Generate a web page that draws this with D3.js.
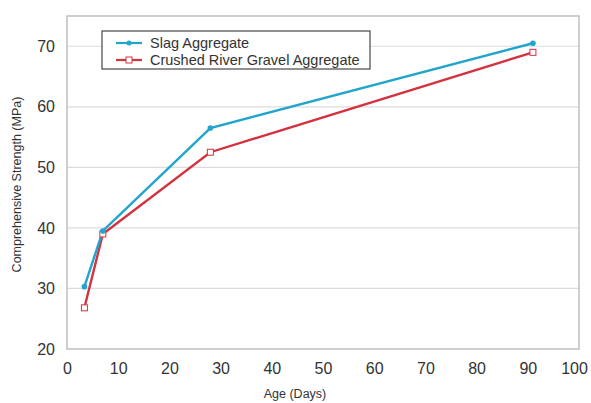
<!DOCTYPE html>
<html>
<head>
<meta charset="utf-8">
<script src="https://cdn.jsdelivr.net/npm/d3@7"></script>
<style>
  body { margin: 0; background: #fff; }
  text { font-family: "Liberation Sans", Arial, sans-serif; fill: #333; }
</style>
</head>
<body>
<svg id="chart" width="591" height="403"></svg>
<script>
// data
var ages = [3.4, 7, 28, 91];
var slag = [30.3, 39.5, 56.5, 70.5];
var gravel = [26.8, 39.0, 52.5, 69.0];
var xTicks = [0, 10, 20, 30, 40, 50, 60, 70, 80, 90, 100];
var yTicks = [20, 30, 40, 50, 60, 70];
var seriesNames = ["Slag Aggregate", "Crushed River Gravel Aggregate"];

(function () {
var svg = d3.select("#chart");
var pLeft = 67, pRight = 579, pTop = 16, pBottom = 349;

var x = d3.scaleLinear().domain([0, 100]).range([pLeft, pRight]);
var y = d3.scaleLinear().domain([20, 75]).range([pBottom, pTop]);

// grid lines
svg.append("g").selectAll("line")
    .data(yTicks.filter(function (d) { return d > 20; }))
    .enter().append("line")
    .attr("x1", pLeft).attr("x2", pRight)
    .attr("y1", function (d) { return y(d); })
    .attr("y2", function (d) { return y(d); })
    .attr("stroke", "#dcdcdc").attr("stroke-width", 1.2);

// frame
svg.append("rect")
    .attr("x", pLeft).attr("y", pTop)
    .attr("width", pRight - pLeft).attr("height", pBottom - pTop)
    .attr("fill", "none").attr("stroke", "#b5b5b5").attr("stroke-width", 1.3);

// axes
var yAxis = d3.axisLeft(y).tickValues(yTicks).tickSize(0).tickPadding(12);
svg.append("g").attr("transform", "translate(" + pLeft + ",0)").call(yAxis)
    .call(function (g) { g.select(".domain").remove(); })
    .selectAll("text").style("font-size", "16px").attr("fill", "#333");

var xAxis = d3.axisBottom(x).tickValues(xTicks).tickSize(0).tickPadding(14);
svg.append("g").attr("transform", "translate(0," + pBottom + ")").call(xAxis)
    .call(function (g) { g.select(".domain").remove(); })
    .selectAll("text").style("font-size", "16px").attr("fill", "#333")
    .attr("dx", function (d) { return d === 100 ? -5 : 0; });

// titles
svg.append("text").attr("x", (pLeft + pRight) / 2 - 28).attr("y", 398)
    .attr("text-anchor", "middle").style("font-size", "12.5px").text("Age (Days)");
svg.append("text")
    .attr("transform", "translate(21," + ((pTop + pBottom) / 2 + 2) + ") rotate(-90)")
    .attr("text-anchor", "middle").style("font-size", "12.5px")
    .text("Comprehensive Strength (MPa)");

var line = d3.line()
    .x(function (d) { return x(d[0]); })
    .y(function (d) { return y(d[1]); });

var blue = "#22a5cc", red = "#d3323f";

svg.append("path").datum(d3.zip(ages, gravel)).attr("d", line)
    .attr("fill", "none").attr("stroke", red).attr("stroke-width", 2.4);
svg.append("path").datum(d3.zip(ages, slag)).attr("d", line)
    .attr("fill", "none").attr("stroke", blue).attr("stroke-width", 2.4);

svg.append("g").selectAll("rect").data(d3.zip(ages, gravel)).enter().append("rect")
    .attr("x", function (d) { return x(d[0]) - 3; })
    .attr("y", function (d) { return y(d[1]) - 3; })
    .attr("width", 6).attr("height", 6)
    .attr("fill", "#fff").attr("stroke", red).attr("stroke-width", 1);
svg.append("g").selectAll("circle").data(d3.zip(ages, slag)).enter().append("circle")
    .attr("cx", function (d) { return x(d[0]); })
    .attr("cy", function (d) { return y(d[1]); })
    .attr("r", 2.8).attr("fill", blue);

// legend
var lg = svg.append("g").attr("transform", "translate(102,31)");
lg.append("rect").attr("width", 268).attr("height", 38)
    .attr("fill", "#fff").attr("stroke", "#222").attr("stroke-width", 1);
var colors = [blue, red];
seriesNames.forEach(function (name, i) {
    var yy = 12 + i * 17;
    lg.append("line").attr("x1", 14).attr("x2", 40).attr("y1", yy).attr("y2", yy)
        .attr("stroke", colors[i]).attr("stroke-width", 2.2);
    if (i === 0)
        lg.append("circle").attr("cx", 27).attr("cy", yy).attr("r", 2.5).attr("fill", blue);
    else
        lg.append("rect").attr("x", 24).attr("y", yy - 3).attr("width", 6).attr("height", 6)
            .attr("fill", "#fff").attr("stroke", red);
    lg.append("text").attr("x", 48).attr("y", yy + 5)
        .style("font-size", "14.5px").attr("fill", "#222").text(name);
});
})();
</script>
</body>
</html>
